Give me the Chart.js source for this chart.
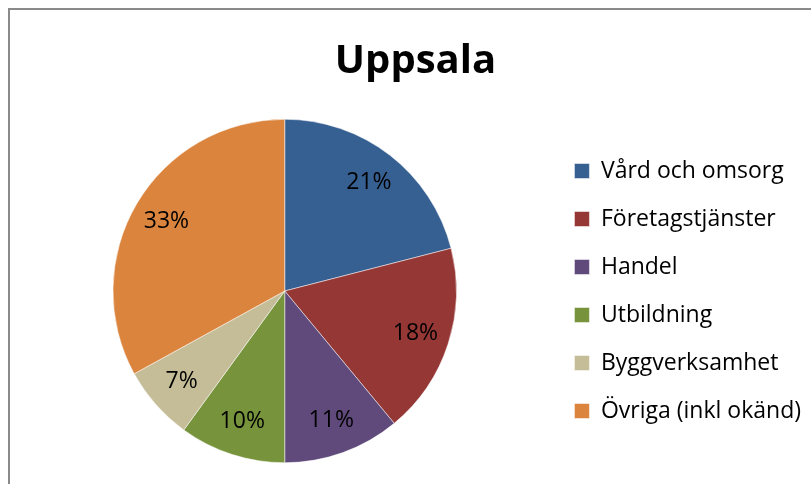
<!DOCTYPE html>
<html>
<head>
<meta charset="utf-8">
<script src="https://cdn.jsdelivr.net/npm/chart.js@4"></script>
<style>
html,body{margin:0;padding:0;background:#fff;overflow:hidden;width:811px;height:484px;}
#frame{position:absolute;left:8px;top:8px;width:840px;height:500px;border-left:2px solid #8a8a8a;border-top:2px solid #8a8a8a;}
#wrap{position:absolute;left:10px;top:10px;width:801px;height:474px;}
</style>
</head>
<body>
<div id="frame"></div>
<div id="wrap"><canvas id="c"></canvas></div>
<script>
const chartTitle = "Uppsala";
const categories = ["Vård och omsorg","Företagstjänster","Handel","Utbildning","Byggverksamhet","Övriga (inkl okänd)"];
const shares = [21, 18, 11, 10, 7, 33];
const colors = ["#376092","#953735","#604A7B","#77933C","#C4BD97","#DB843D"];

const pctLabels = {
  id: 'pctLabels',
  afterDatasetsDraw(chart) {
    const ctx = chart.ctx;
    const meta = chart.getDatasetMeta(0);
    ctx.save();
    ctx.font = '23px "Open Sans"';
    ctx.fillStyle = '#000';
    ctx.textAlign = 'center';
    ctx.textBaseline = 'middle';
    meta.data.forEach((arc, i) => {
      const mid = (arc.startAngle + arc.endAngle) / 2;
      const r = arc.outerRadius * 0.8;
      ctx.fillText(shares[i] + '%', arc.x + Math.cos(mid) * r, arc.y + Math.sin(mid) * r);
    });
    ctx.restore();
  }
};

new Chart(document.getElementById('c'), {
  type: 'pie',
  data: {
    labels: categories,
    datasets: [{ data: shares, backgroundColor: colors, borderColor: '#ffffff', borderWidth: 0.5 }]
  },
  options: {
    responsive: true,
    maintainAspectRatio: false,
    animation: false,
    layout: { padding: { left: 10, right: 0, top: 0, bottom: 21 } },
    plugins: {
      tooltip: { enabled: false },
      title: {
        display: true,
        text: chartTitle,
        color: '#000',
        font: { family: 'Open Sans', size: 40, weight: 'bold' },
        padding: { top: 28, bottom: 33 }
      },
      legend: {
        position: 'right',
        fullSize: false,
        labels: {
          color: '#000',
          font: { family: 'Open Sans', size: 23 },
          boxWidth: 15,
          boxHeight: 15,
          padding: 25
        }
      }
    }
  },
  plugins: [pctLabels]
});
</script>
</body>
</html>
